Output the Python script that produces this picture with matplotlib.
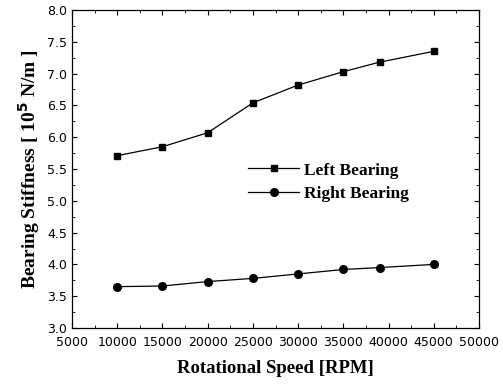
import numpy as np
import matplotlib.pyplot as plt
from matplotlib.ticker import MultipleLocator

plt.rcParams['font.family'] = ['Liberation Serif', 'DejaVu Serif']

# 数据
speed = [10000, 15000, 20000, 25000, 30000, 35000, 39000, 45000]
left_bearing = [5.71, 5.85, 6.07, 6.54, 6.82, 7.03, 7.18, 7.35]
right_bearing = [3.65, 3.66, 3.73, 3.78, 3.85, 3.92, 3.95, 4.00]

fig = plt.figure(figsize=(5.03, 3.85), dpi=100)
ax = fig.add_axes([72 / 503, 1 - 328 / 385, (479 - 72) / 503, (328 - 10) / 385])

ax.plot(speed, left_bearing, color="black", lw=0.9, marker="s", ms=5, label="Left Bearing")
ax.plot(speed, right_bearing, color="black", lw=0.9, marker="o", ms=5.5, label="Right Bearing")

ax.set_xlim(5000, 50000)
ax.set_ylim(3.0, 8.0)
ax.xaxis.set_major_locator(MultipleLocator(5000))
ax.xaxis.set_minor_locator(MultipleLocator(2500))
ax.yaxis.set_major_locator(MultipleLocator(0.5))
ax.yaxis.set_minor_locator(MultipleLocator(0.25))
ax.yaxis.set_major_formatter(plt.FuncFormatter(lambda v, p: f"{v:.1f}"))
ax.tick_params(which="both", direction="in", top=True, right=True)
ax.tick_params(which="major", length=3.5, width=0.8)
ax.tick_params(axis="x", which="major", pad=6)
ax.tick_params(which="minor", length=2, width=0.6)
for lab in ax.get_xticklabels() + ax.get_yticklabels():
    lab.set_family(['Liberation Sans Narrow', 'DejaVu Sans'])
    lab.set_fontsize(9)
for s in ax.spines.values():
    s.set_linewidth(0.9)

ax.set_xlabel("Rotational Speed [RPM]", fontsize=13.5, fontweight="bold", labelpad=8)
ax.set_ylabel(r"Bearing Stiffness [ 10$^\mathbf{5}$ N/m ]", fontsize=14, fontweight="bold", labelpad=4)

ax.legend(loc="upper left", bbox_to_anchor=(0.395, 0.57), frameon=False, handlelength=2.9,
          prop={"weight": "bold", "size": 12.5}, labelspacing=0.45, handletextpad=0.3)

plt.savefig("out.png", dpi=100)
